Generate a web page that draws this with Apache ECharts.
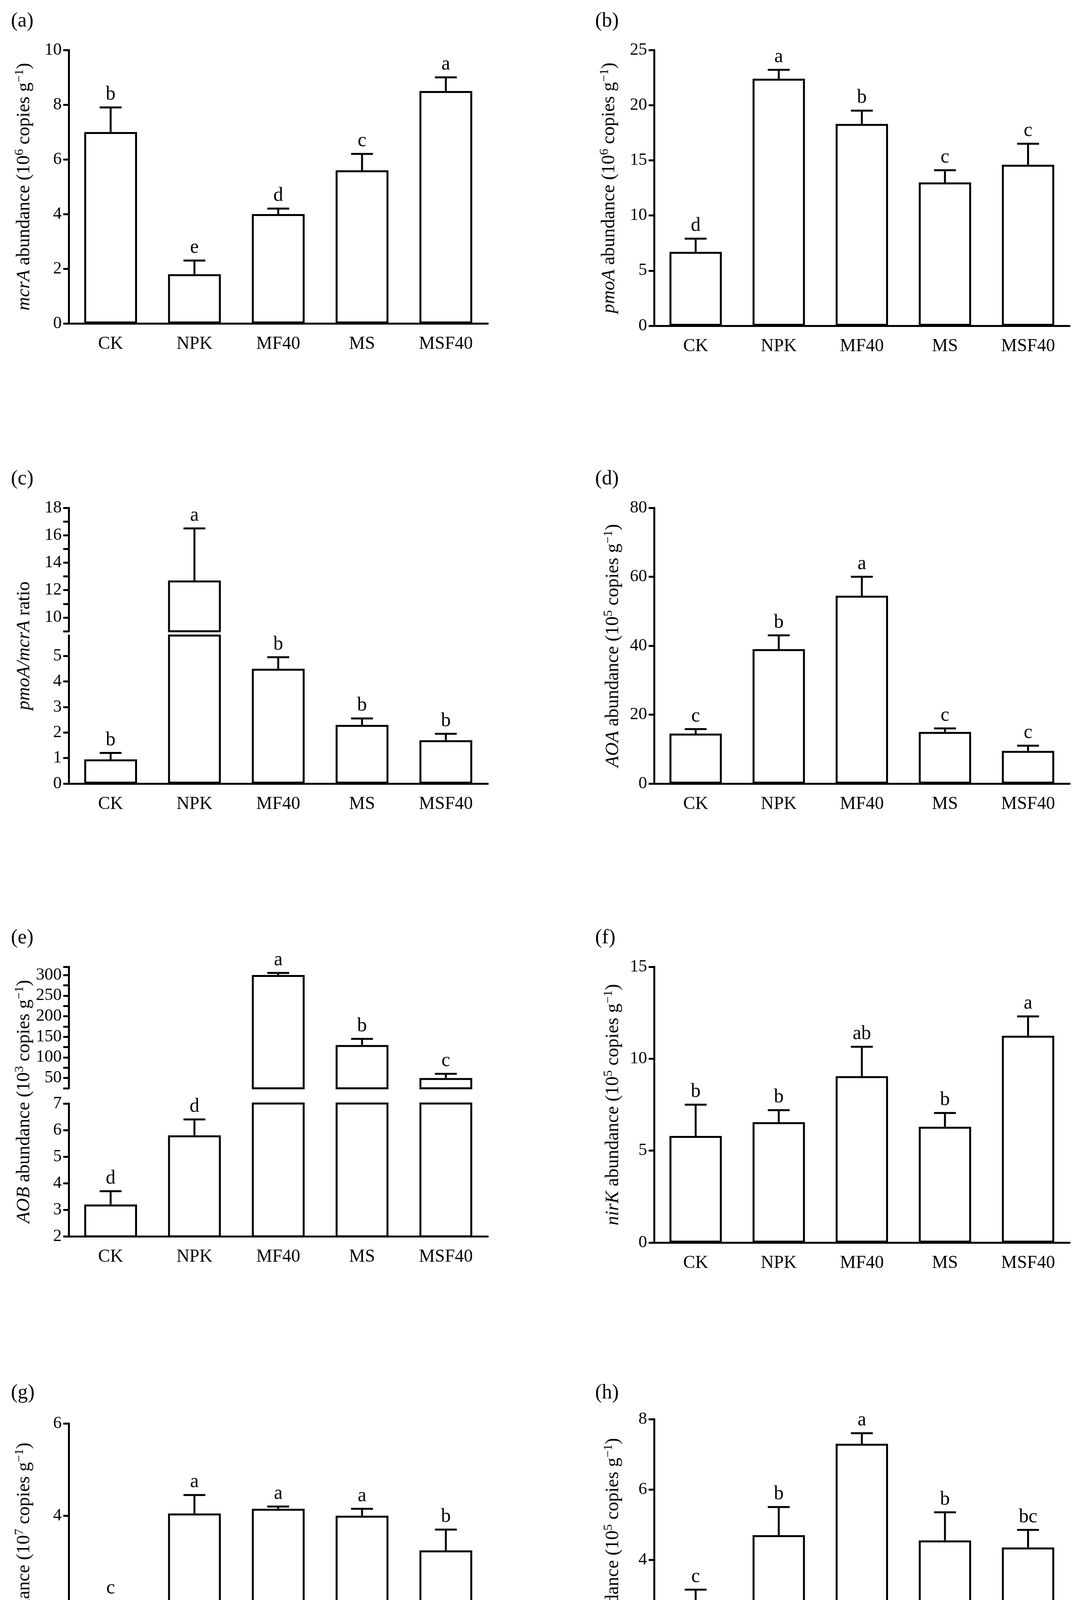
<!DOCTYPE html>
<html><head><meta charset="utf-8">
<script src="https://cdn.jsdelivr.net/npm/echarts@6/dist/echarts.min.js"></script>
<style>html,body{margin:0;background:#fff}#c{width:2781px;height:4466px}</style>
</head><body><div id="c"></div>
<script>
const cats = ['CK','NPK','MF40','MS','MSF40'];
const aMean=[7.0,1.8,4.0,5.6,8.5], aTop=[7.9,2.3,4.2,6.2,9.0], aLet=['b','e','d','c','a'];
const bMean=[6.7,22.4,18.3,13.0,14.6], bTop=[7.9,23.2,19.5,14.1,16.5], bLet=['d','a','b','c','c'];
const cMean=[0.95,12.7,4.5,2.3,1.7], cTop=[1.2,16.5,4.95,2.55,1.95], cLet=['b','a','b','b','b'];
const dMean=[14.5,39,54.5,15,9.5], dTop=[15.8,43,60,16,11], dLet=['c','b','a','c','c'];
const eMean=[3.2,5.8,300,130,50], eTop=[3.7,6.4,305,145,60], eLet=['d','d','a','b','c'];
const fMean=[5.8,6.55,9.05,6.3,11.25], fTop=[7.5,7.2,10.65,7.05,12.3], fLet=['b','b','ab','b','a'];
const gMean=[2.0,4.05,4.15,4.0,3.25], gTop=[2.15,4.45,4.2,4.15,3.7], gLet=['c','a','a','a','b'];
const hMean=[2.75,4.7,7.3,4.55,4.35], hTop=[3.15,5.5,7.6,5.35,4.85], hLet=['c','b','a','b','bc'];

const FONT='Liberation Serif', LW=5;
const grids=[],xAxes=[],yAxes=[],series=[],graphics=[];
function addGrid(box,yopt,showX,mean,top,lets,showIdx){
  const gi=grids.length;
  grids.push({left:box[0],top:box[1],width:box[2]-box[0],height:box[3]-box[1]});
  xAxes.push({type:'category',data:cats,gridIndex:gi,show:true,
    axisLine:{show:showX,lineStyle:{color:'#000',width:LW}},axisTick:{show:false},
    axisLabel:{show:showX,color:'#000',fontFamily:FONT,fontSize:46,margin:30}});
  yAxes.push(Object.assign({type:'value',gridIndex:gi,splitLine:{show:false},
    axisLine:{show:true,lineStyle:{color:'#000',width:LW}},
    axisTick:{show:true,inside:false,length:14,lineStyle:{width:LW}},
    axisLabel:{color:'#000',fontFamily:FONT,fontSize:44,margin:18}},yopt));
  series.push({type:'bar',xAxisIndex:gi,yAxisIndex:gi,barWidth:'63%',
    data:mean,
    itemStyle:{color:'#fff',borderColor:'#000',borderWidth:LW},silent:true});
  const idx=showIdx||[0,1,2,3,4];
  series.push({type:'custom',xAxisIndex:gi,yAxisIndex:gi,clip:false,
    data:idx.map(i=>[i,mean[i],top[i]]),
    renderItem:(p,api)=>{
      const i=api.value(0);
      const b=api.coord([i,api.value(1)]),t=api.coord([i,api.value(2)]);
      const x=b[0],cap=28;
      return {type:'group',children:[
        {type:'line',shape:{x1:x,y1:b[1],x2:x,y2:t[1]},style:{stroke:'#000',lineWidth:LW}},
        {type:'line',shape:{x1:x-cap,y1:t[1],x2:x+cap,y2:t[1]},style:{stroke:'#000',lineWidth:LW}},
        {type:'text',x:x,y:t[1]-8,style:{text:lets[i],fontFamily:FONT,fontSize:50,fill:'#000',textAlign:'center',textVerticalAlign:'bottom'}}
      ]};
    }});
}
function label(x,y,t){graphics.push({type:'text',x:x,y:y,style:{text:t,fontFamily:FONT,fontSize:52,fill:'#000'}});}
function yname(x,y,rich){graphics.push({type:'text',x:x,y:y,rotation:Math.PI/2,
  style:{text:rich,fontFamily:FONT,fontSize:48,fill:'#000',textAlign:'center',textVerticalAlign:'middle',
  rich:{i:{fontStyle:'italic',fontFamily:FONT,fontSize:48},s:{fontSize:32,fontFamily:FONT,verticalAlign:'top',padding:[0,0,22,0]},n:{fontFamily:FONT,fontSize:48}}}});}

const L=[176,1249],R=[1675,2739];
addGrid([L[0],128,L[1],828],{min:0,max:10,interval:2},true,aMean,aTop,aLet,null);
addGrid([R[0],128,R[1],834],{min:0,max:25,interval:5},true,bMean,bTop,bLet,null);
addGrid([L[0],1300,L[1],1616],{min:9,max:18,interval:1,axisLabel:{color:'#000',fontFamily:FONT,fontSize:44,margin:18,formatter:v=>v%2===0?v:''}},false,cMean.map((v,i)=>i===1?v:'-'),cTop,cLet,[1]);
addGrid([L[0],1627,L[1],2006],{min:0,max:5.8,interval:1,axisLabel:{color:'#000',fontFamily:FONT,fontSize:44,margin:18,showMaxLabel:false,formatter:v=>Number.isInteger(v)?v:''}},true,cMean,cTop,cLet,[0,2,3,4]);
addGrid([R[0],1300,R[1],2006],{min:0,max:80,interval:20},true,dMean,dTop,dLet,null);
addGrid([L[0],2475,L[1],2786],{min:25,max:320,interval:25,axisLabel:{color:'#000',fontFamily:FONT,fontSize:44,margin:18,formatter:v=>(v%50===0?v:'')}},false,eMean.map((v,i)=>i>=2?v:'-'),eTop,eLet,[2,3,4]);
addGrid([L[0],2825,L[1],3165],{min:2,max:7,interval:1},true,eMean,eTop,eLet,[0,1]);
addGrid([R[0],2475,R[1],3181],{min:0,max:15,interval:5},true,fMean,fTop,fLet,null);
addGrid([L[0],3644,L[1],4353],{min:0,max:6,interval:2},true,gMean,gTop,gLet,null);
addGrid([R[0],3633,R[1],4353],{min:0,max:8,interval:2},true,hMean,hTop,hLet,null);

label(28,28,'(a)');label(1524,28,'(b)');label(28,1200,'(c)');label(1524,1200,'(d)');
label(28,2375,'(e)');label(1524,2375,'(f)');label(28,3540,'(g)');label(1524,3540,'(h)');
yname(62,478,'{i|mcrA}{n| abundance (10}{s|6}{n| copies g}{s|−1}{n|)}');
yname(1560,481,'{i|pmoA}{n| abundance (10}{s|6}{n| copies g}{s|−1}{n|)}');
yname(62,1653,'{i|pmoA/mcrA}{n| ratio}');
yname(1570,1653,'{i|AOA}{n| abundance (10}{s|5}{n| copies g}{s|−1}{n|)}');
yname(62,2820,'{i|AOB}{n| abundance (10}{s|3}{n| copies g}{s|−1}{n|)}');
yname(1570,2828,'{i|nirK}{n| abundance (10}{s|5}{n| copies g}{s|−1}{n|)}');
yname(62,3998,'{i|nirS}{n| abundance (10}{s|7}{n| copies g}{s|−1}{n|)}');
yname(1570,3993,'{i|nosZ}{n| abundance (10}{s|5}{n| copies g}{s|−1}{n|)}');

const chart=echarts.init(document.getElementById('c'));
chart.setOption({animation:false,backgroundColor:'#fff',grid:grids,xAxis:xAxes,yAxis:yAxes,series:series,graphic:graphics});
</script></body></html>
